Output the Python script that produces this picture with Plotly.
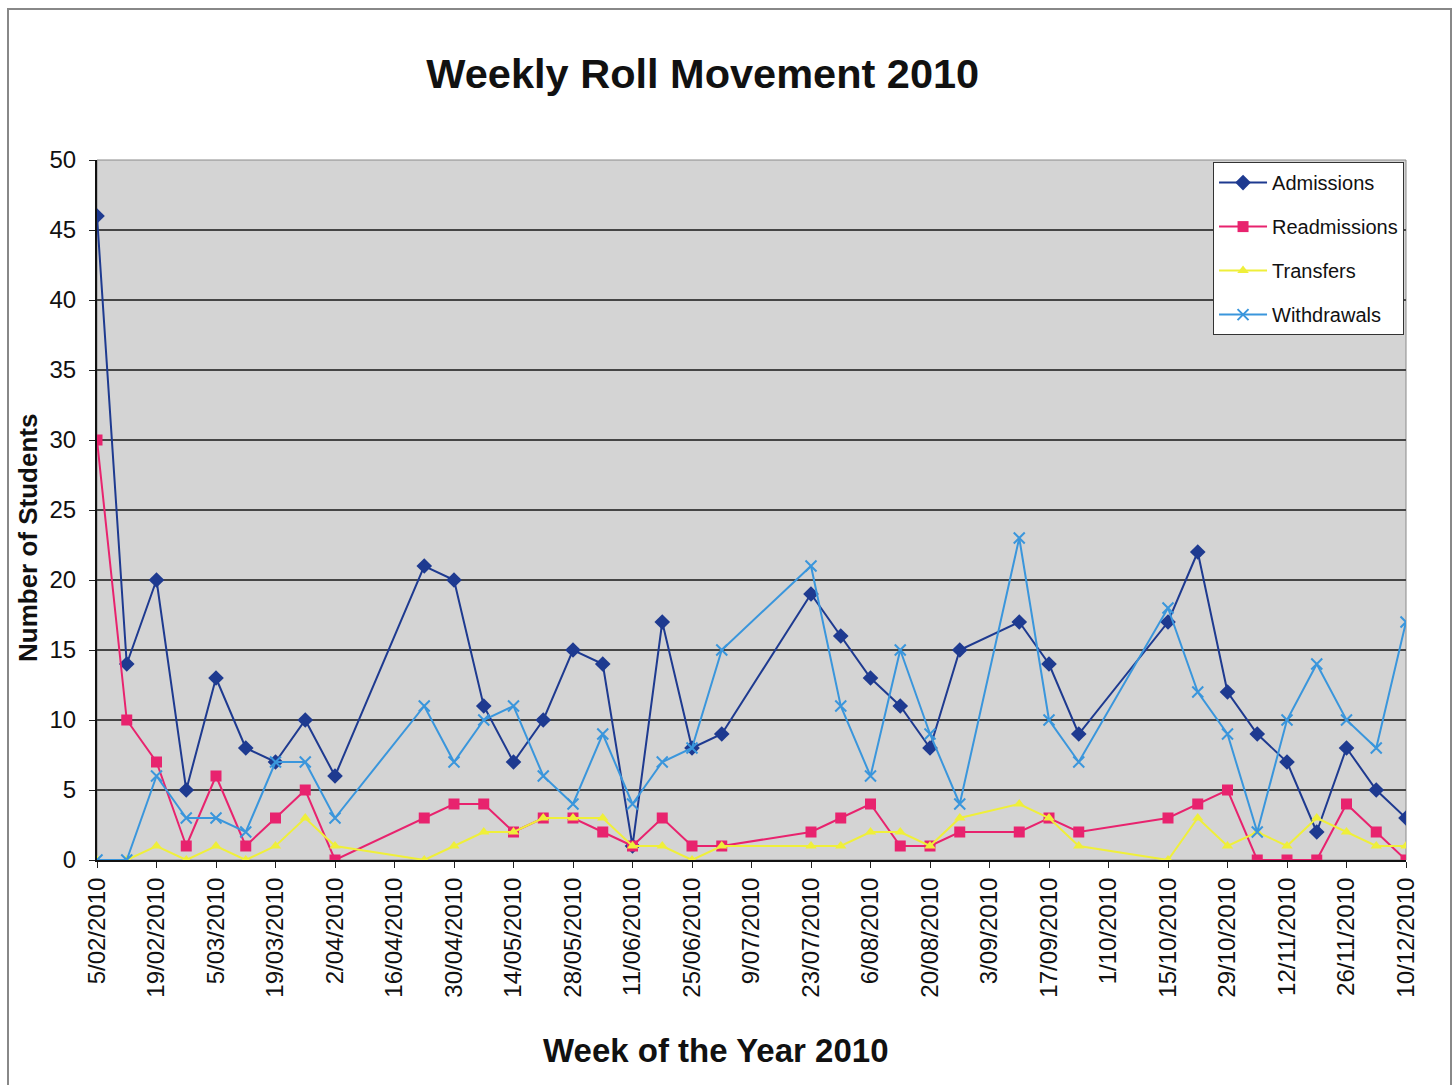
import plotly.graph_objects as go

# Weeks with recorded roll movements (school holiday weeks have no entry)
weeks = [
    "2010-02-05", "2010-02-12", "2010-02-19", "2010-02-26", "2010-03-05",
    "2010-03-12", "2010-03-19", "2010-03-26", "2010-04-02",
    "2010-04-23", "2010-04-30", "2010-05-07", "2010-05-14", "2010-05-21",
    "2010-05-28", "2010-06-04", "2010-06-11", "2010-06-18", "2010-06-25",
    "2010-07-02",
    "2010-07-23", "2010-07-30", "2010-08-06", "2010-08-13", "2010-08-20",
    "2010-08-27",
    "2010-09-10", "2010-09-17", "2010-09-24",
    "2010-10-15", "2010-10-22", "2010-10-29", "2010-11-05", "2010-11-12",
    "2010-11-19", "2010-11-26", "2010-12-03", "2010-12-10",
]

admissions = [46, 14, 20, 5, 13, 8, 7, 10, 6,
              21, 20, 11, 7, 10, 15, 14, 1, 17, 8, 9,
              19, 16, 13, 11, 8, 15,
              17, 14, 9,
              17, 22, 12, 9, 7, 2, 8, 5, 3]
readmissions = [30, 10, 7, 1, 6, 1, 3, 5, 0,
                3, 4, 4, 2, 3, 3, 2, 1, 3, 1, 1,
                2, 3, 4, 1, 1, 2,
                2, 3, 2,
                3, 4, 5, 0, 0, 0, 4, 2, 0]
transfers = [0, 0, 1, 0, 1, 0, 1, 3, 1,
             0, 1, 2, 2, 3, 3, 3, 1, 1, 0, 1,
             1, 1, 2, 2, 1, 3,
             4, 3, 1,
             0, 3, 1, 2, 1, 3, 2, 1, 1]
withdrawals = [0, 0, 6, 3, 3, 2, 7, 7, 3,
               11, 7, 10, 11, 6, 4, 9, 4, 7, 8, 15,
               21, 11, 6, 15, 9, 4,
               23, 10, 7,
               18, 12, 9, 2, 10, 14, 10, 8, 17]

series = [
    ("Admissions", admissions, "#1E3A90", "diamond", 12),
    ("Readmissions", readmissions, "#E8236E", "square", 11),
    ("Transfers", transfers, "#EFEF3A", "triangle-up", 10),
    ("Withdrawals", withdrawals, "#3A96DC", "x-thin-open", 11),
]

fig = go.Figure()
for name, vals, color, symbol, size in series:
    fig.add_trace(go.Scatter(
        x=weeks, y=vals, name=name, legendgroup=name,
        mode="lines+markers",
        line=dict(color=color, width=2),
        marker=dict(symbol=symbol, size=size, color=color,
                    line=dict(color=color, width=2 if symbol.startswith("x") else 0)),
    ))

FONT = "Liberation Sans, Arial, sans-serif"
INK = "#111111"

fig.update_layout(
    width=1455, height=1085,
    margin=dict(l=97, r=49, t=160, b=225),
    paper_bgcolor="white",
    plot_bgcolor="#D4D4D4",
    font=dict(family=FONT, color=INK),
    title=dict(text="<b>Weekly Roll Movement 2010</b>",
               x=0.483, xanchor="center", y=0.932, yanchor="middle",
               font=dict(size=41.5, family=FONT, color=INK)),
    showlegend=True,
    legend=dict(x=0.9985, xanchor="right", y=0.997, yanchor="top",
                bgcolor="white", bordercolor="#333333", borderwidth=1,
                font=dict(size=20, family=FONT, color=INK),
                itemwidth=48,
                tracegroupgap=15, traceorder="grouped"),
    xaxis=dict(
        type="date",
        range=["2010-02-05", "2010-12-10"],
        tick0="2010-02-05", dtick=14 * 86400000,
        tickformat="%-d/%m/%Y", tickangle=-90,
        tickfont=dict(size=24, family=FONT, color=INK),
        ticks="outside", ticklen=6, tickcolor="#222222",
        showgrid=False, showline=True, linecolor=INK, linewidth=2,
        zeroline=False,
    ),
    yaxis=dict(
        range=[0, 50], dtick=5,
        tickfont=dict(size=24, family=FONT, color=INK),
        ticks="outside", ticklen=6, tickcolor="#222222",
        ticklabelstandoff=8,
        showgrid=True, gridcolor="#454545", gridwidth=1.5,
        showline=True, linecolor=INK, linewidth=2,
        zeroline=False,
    ),
    annotations=[
        dict(text="<b>Week of the Year 2010</b>", xref="paper", yref="paper",
             x=(716 - 97) / 1309, y=(860 - 1050) / 700,
             xanchor="center", yanchor="middle", showarrow=False,
             font=dict(size=33, family=FONT, color=INK)),
        dict(text="<b>Number of Students</b>", xref="paper", yref="paper",
             x=(28 - 97) / 1309, y=(860 - 538) / 700, textangle=-90,
             xanchor="center", yanchor="middle", showarrow=False,
             font=dict(size=26, family=FONT, color=INK)),
    ],
    shapes=[
        # plot area frame on the top and right
        dict(type="rect", xref="paper", yref="paper", x0=0, x1=1, y0=0, y1=1,
             line=dict(color="#8A8A8A", width=1), layer="below"),
        # outer chart border
        dict(type="rect", xref="paper", yref="paper",
             x0=(8 - 97) / 1309, x1=(1451 - 97) / 1309,
             y0=(860 - 1095) / 700, y1=(860 - 9) / 700,
             line=dict(color="#888888", width=2), layer="below"),
    ],
)

fig.write_html("out.html")
